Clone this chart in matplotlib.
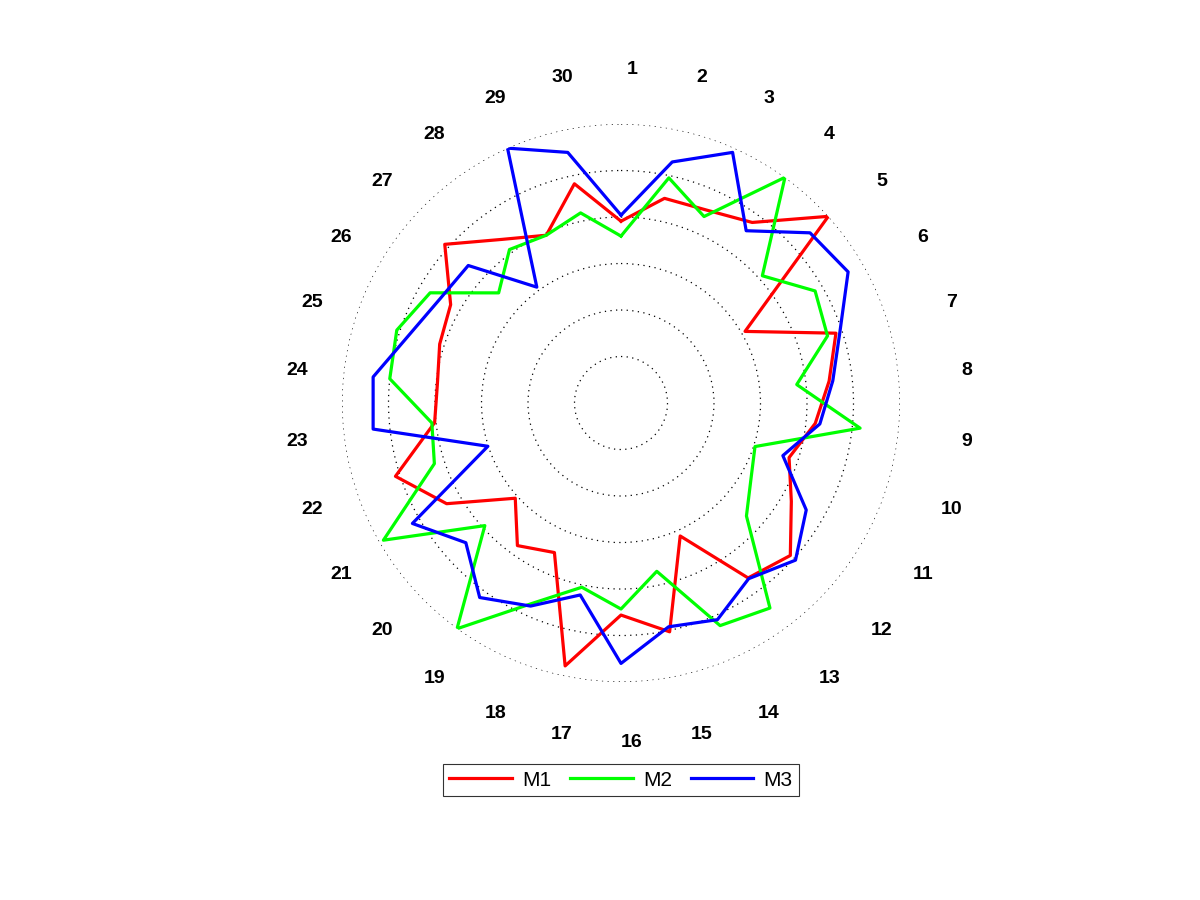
import numpy as np
import matplotlib.pyplot as plt
from matplotlib.transforms import ScaledTranslation

# category labels around the radar, 1..30 clockwise from top
categories = [str(i) for i in range(1, 31)]

m1 = [3.91, 4.50, 4.54, 4.80, 6.00, 3.08, 4.86, 4.50, 4.20, 3.80,
      4.23, 4.90, 4.65, 3.13, 5.03, 4.56, 5.78, 3.52, 3.79, 3.06,
      4.33, 5.10, 4.03, 3.97, 4.10, 4.23, 5.10, 4.35, 3.95, 4.82]
m2 = [3.59, 4.95, 4.39, 6.00, 4.09, 4.82, 4.67, 3.80, 5.17, 3.03,
      3.23, 3.63, 5.45, 5.24, 3.70, 4.43, 4.05, 4.72, 6.00, 3.94,
      5.90, 4.22, 4.09, 5.00, 5.07, 4.74, 3.54, 4.08, 3.95, 4.18]
m3 = [4.04, 5.30, 5.90, 4.58, 5.47, 5.64, 4.95, 4.58, 4.30, 3.66,
      4.60, 5.05, 4.67, 5.10, 4.92, 5.60, 4.22, 4.78, 5.17, 4.49,
      5.18, 3.01, 5.36, 5.36, 4.78, 4.49, 4.42, 3.08, 6.00, 5.51]

series_names = ['M1', 'M2', 'M3']
series_colors = ['#ff0000', '#00ff00', '#0000ff']
ring_levels = [1, 2, 3, 4, 5, 6]

fig = plt.figure(figsize=(12, 9), dpi=100)
ax = fig.add_axes([0.285, 0.2422, 0.465, 0.62], projection='polar')
ax.set_theta_zero_location('N')
ax.set_theta_direction(-1)

n = len(categories)
angles = np.arange(n) * 2 * np.pi / n
angles_closed = np.append(angles, angles[0])

for vals, name, col in zip([m1, m2, m3], series_names, series_colors):
    vals_closed = np.append(vals, vals[0])
    ax.plot(angles_closed, vals_closed, color=col, linewidth=2.3, label=name)

# dotted rings
ax.set_ylim(0, 6)
ax.set_yticks(ring_levels)
ax.set_yticklabels([])
ax.set_xticks([])
ax.yaxis.grid(True, linestyle=(0, (1, 3.5)), color='black', linewidth=0.9)
ax.xaxis.grid(False)
ax.spines['polar'].set_visible(False)

# category labels, shifted slightly like the original
shift = ax.transData + ScaledTranslation(11 / 100, -3 / 100, fig.dpi_scale_trans)
for a, lab in zip(angles, categories):
    ax.text(a, 7.23, lab, transform=shift, ha='center', va='center',
            fontsize=14, fontweight='bold', family='Liberation Sans')

leg = fig.legend(loc='center', bbox_to_anchor=(0.5175, 0.1333), ncol=3,
                 frameon=True, fancybox=False, edgecolor='black',
                 prop={'family': 'Liberation Sans', 'size': 15},
                 handlelength=3.0, columnspacing=0.9, handletextpad=0.5,
                 borderpad=0.3)
leg.get_frame().set_linewidth(0.8)

fig.savefig('out.png', dpi=100)
